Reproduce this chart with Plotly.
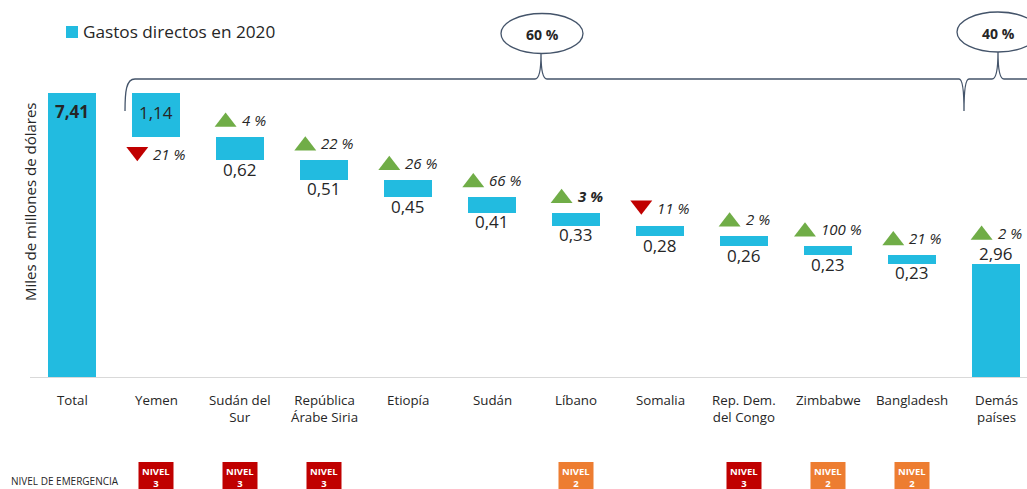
import plotly.graph_objects as go

# ---------------- data ----------------
categories = ["Total", "Yemen", "Sudán del<br>Sur", "República<br>Árabe Siria", "Etiopía",
              "Sudán", "Líbano", "Somalia", "Rep. Dem.<br>del Congo", "Zimbabwe",
              "Bangladesh", "Demás<br>países"]
values = [7.41, 1.14, 0.62, 0.51, 0.45, 0.41, 0.33, 0.28, 0.26, 0.23, 0.23, 2.96]
changes = [None, -21, 4, 22, 26, 66, 3, -11, 2, 100, 21, 2]
bold_change = [False, False, False, False, False, False, True, False, False, False, False, False]
levels = [None, 3, 3, 3, None, None, 2, None, 3, 2, 2, None]
legend_label = "Gastos directos en 2020"
y_title = "Miles de millones de dólares"
level_title = "NIVEL DE EMERGENCIA"
share_labels = ["60 %", "40 %"]

# ---------------- styling ----------------
BLUE = "#22BBE0"
GREEN = "#70AD47"
RED = "#C00000"
ORANGE = "#ED7D31"
TXT = "#262626"
BRACE = "#44546A"
FONT = "Open Sans"

W, H = 1027, 489
ML, MR, MT, MB = 30, 0, 0, 112
PLOT_W = W - ML - MR
PLOT_H = H - MT - MB
PX_PER_UNIT = 38.33
STEP_PX = 84.0
X0 = -0.5
X1 = X0 + PLOT_W / STEP_PX
YMAX = PLOT_H / PX_PER_UNIT


def fmt(v):
    return f"{v:.2f}".replace(".", ",")


def px_x(xd):
    return ML + (xd - X0) * STEP_PX


def paper_x(px):
    return (px - ML) / PLOT_W


def paper_y(py):
    return (MT + PLOT_H - py) / PLOT_H


def py_of(yd):
    return MT + PLOT_H - yd * PX_PER_UNIT


# ---------------- waterfall bases ----------------
n = len(values)
bases = []
running = values[0]
for i, v in enumerate(values):
    if i == 0 or i == n - 1:
        bases.append(0.0)
    else:
        running -= v
        bases.append(running)
tops = [b + v for b, v in zip(bases, values)]
xs = list(range(n))

fig = go.Figure()
fig.add_trace(go.Bar(x=xs, y=values, base=bases, width=48 / STEP_PX,
                     marker=dict(color=BLUE, line=dict(width=0)),
                     showlegend=False, hoverinfo="skip"))

annotations = []
shapes = []

# value labels
for i, v in enumerate(values):
    if i == 0:
        annotations.append(dict(x=i, y=tops[i], xref="x", yref="y", text=f"<b>{fmt(v)}</b>",
                                showarrow=False, yanchor="middle", yshift=-19, borderpad=0,
                                font=dict(size=17, color=TXT, family=FONT)))
    elif i == 1:
        annotations.append(dict(x=i, y=tops[i], xref="x", yref="y", text=fmt(v),
                                showarrow=False, yanchor="middle", yshift=-20, borderpad=0,
                                font=dict(size=17, color=TXT, family=FONT)))
    elif i == n - 1:
        annotations.append(dict(x=i, y=tops[i], xref="x", yref="y", text=fmt(v),
                                showarrow=False, yanchor="middle", yshift=10, borderpad=0,
                                font=dict(size=17, color=TXT, family=FONT)))
    else:
        annotations.append(dict(x=i, y=bases[i], xref="x", yref="y", text=fmt(v),
                                showarrow=False, yanchor="middle", yshift=-9, borderpad=0,
                                font=dict(size=17, color=TXT, family=FONT)))

# change markers + percentages
CW = {"0": 8.6, "1": 8.6, "2": 8.6, "3": 8.6, "4": 8.6, "5": 8.6, "6": 8.6, "7": 8.6,
      "8": 8.6, "9": 8.6, " ": 3.9, "%": 12.3}
TRI_SIZE = 19
TRI_R = TRI_SIZE / 2
tri_x, tri_y, tri_sym, tri_col = [], [], [], []
for i, c in enumerate(changes):
    if c is None:
        continue
    label = f"{abs(c)} %"
    tw = sum(CW.get(ch, 8.6) for ch in label)
    group = 22 + 4 + tw
    left_px = px_x(i) - group / 2
    tri_cx_px = left_px + 11
    text_px = left_px + 26
    up = c > 0
    if i == 1:
        center_py = py_of(bases[i]) + 17.5
    elif i == n - 1:
        center_py = py_of(tops[i]) - 31
    elif up:
        center_py = py_of(tops[i]) - 17
    else:
        center_py = py_of(tops[i]) - 18
    anchor_py = center_py + TRI_R / 4 if up else center_py - TRI_R / 4
    tri_x.append(X0 + (tri_cx_px - ML) / STEP_PX)
    tri_y.append((MT + PLOT_H - anchor_py) / PX_PER_UNIT)
    tri_sym.append("triangle-up" if up else "triangle-down")
    tri_col.append(GREEN if up else RED)
    txt = f"<i>{label}</i>"
    if bold_change[i]:
        txt = f"<b>{txt}</b>"
    annotations.append(dict(x=X0 + (text_px - ML) / STEP_PX,
                            y=(MT + PLOT_H - center_py) / PX_PER_UNIT,
                            xref="x", yref="y", text=txt, showarrow=False,
                            xanchor="left", yanchor="middle", borderpad=0,
                            font=dict(size=15, color=TXT, family=FONT)))

fig.add_trace(go.Scatter(x=tri_x, y=tri_y, mode="markers",
                         marker=dict(symbol=tri_sym, color=tri_col, size=TRI_SIZE,
                                     line=dict(width=0)),
                         showlegend=False, hoverinfo="skip", cliponaxis=False))

# category labels
for i, cat in enumerate(categories):
    annotations.append(dict(x=i, y=0, xref="x", yref="y", text=cat, showarrow=False,
                            yanchor="top", yshift=-12, align="center",
                            font=dict(size=13.3, color=TXT, family=FONT)))

# emergency level boxes
for i, lv in enumerate(levels):
    if lv is None:
        continue
    cx = px_x(i)
    col = RED if lv == 3 else ORANGE
    shapes.append(dict(type="rect", xref="paper", yref="paper",
                       x0=paper_x(cx - 17.5), x1=paper_x(cx + 17.5),
                       y0=paper_y(500), y1=paper_y(462),
                       fillcolor=col, line=dict(width=0), layer="above"))
    annotations.append(dict(x=paper_x(cx), y=paper_y(464), xref="paper", yref="paper",
                            text=f"<b>NIVEL<br>{lv}</b>", showarrow=False,
                            yanchor="top", xanchor="center", borderpad=0,
                            font=dict(size=9.5, color="white", family=FONT)))

annotations.append(dict(x=paper_x(9), y=paper_y(481), xref="paper", yref="paper",
                        text=level_title, showarrow=False, xanchor="left", yanchor="middle",
                        font=dict(size=10, color=TXT, family=FONT)))

# y-axis title
annotations.append(dict(x=paper_x(30), y=paper_y(202), xref="paper", yref="paper",
                        text=y_title, showarrow=False, textangle=-90,
                        xanchor="center", yanchor="middle",
                        font=dict(size=15, color=TXT, family=FONT)))

# legend
shapes.append(dict(type="rect", xref="paper", yref="paper",
                   x0=paper_x(66), x1=paper_x(78), y0=paper_y(38), y1=paper_y(26),
                   fillcolor=BLUE, line=dict(width=0)))
annotations.append(dict(x=paper_x(81), y=paper_y(32), xref="paper", yref="paper",
                        text=legend_label, showarrow=False, xanchor="left", yanchor="middle",
                        font=dict(size=17.2, color=TXT, family=FONT)))

# braces
yl, yt = 79, 111
p1 = 541
sp = 964
p2 = 998


def P(x, y):
    return f"{paper_x(x):.5f},{paper_y(y):.5f}"


path = ("M" + P(125, yt) + " C" + P(125, 92) + " " + P(126, yl) + " " + P(135, yl) +
        " L" + P(p1 - 6, yl) + " Q" + P(p1, yl) + " " + P(p1, 54) +
        " Q" + P(p1, yl) + " " + P(p1 + 6, yl) +
        " L" + P(sp - 5, yl) + " Q" + P(sp, yl) + " " + P(sp, yt) +
        " Q" + P(sp, yl) + " " + P(sp + 5, yl) +
        " L" + P(p2 - 6, yl) + " Q" + P(p2, yl) + " " + P(p2, 52) +
        " Q" + P(p2, yl) + " " + P(p2 + 6, yl) +
        " L" + P(1040, yl))
shapes.append(dict(type="path", xref="paper", yref="paper", path=path,
                   line=dict(color=BRACE, width=1.3)))

for (cx, cy, lab) in [(542, 33.5, share_labels[0]), (998, 32, share_labels[1])]:
    shapes.append(dict(type="circle", xref="paper", yref="paper",
                       x0=paper_x(cx - 41), x1=paper_x(cx + 41),
                       y0=paper_y(cy + 20), y1=paper_y(cy - 20),
                       fillcolor="white", line=dict(color=BRACE, width=1.3)))
    annotations.append(dict(x=paper_x(cx), y=paper_y(cy + 1), xref="paper", yref="paper",
                            text=f"<b>{lab}</b>", showarrow=False,
                            xanchor="center", yanchor="middle",
                            font=dict(size=14, color=TXT, family=FONT)))

fig.update_layout(
    width=W, height=H, autosize=False,
    margin=dict(l=ML, r=MR, t=MT, b=MB, pad=0),
    plot_bgcolor="white", paper_bgcolor="white",
    font=dict(family=FONT, color=TXT),
    showlegend=False,
    xaxis=dict(range=[X0, X1], showgrid=False, zeroline=False, showticklabels=False,
               ticks="", showline=True, linecolor="#D9D9D9", linewidth=1, fixedrange=True),
    yaxis=dict(range=[0, YMAX], visible=False, fixedrange=True),
    annotations=annotations,
    shapes=shapes,
    bargap=0,
)

fig.write_html("out.html", config={"displayModeBar": False},
               post_script="document.body.style.margin='0';document.body.style.overflow='hidden';")
